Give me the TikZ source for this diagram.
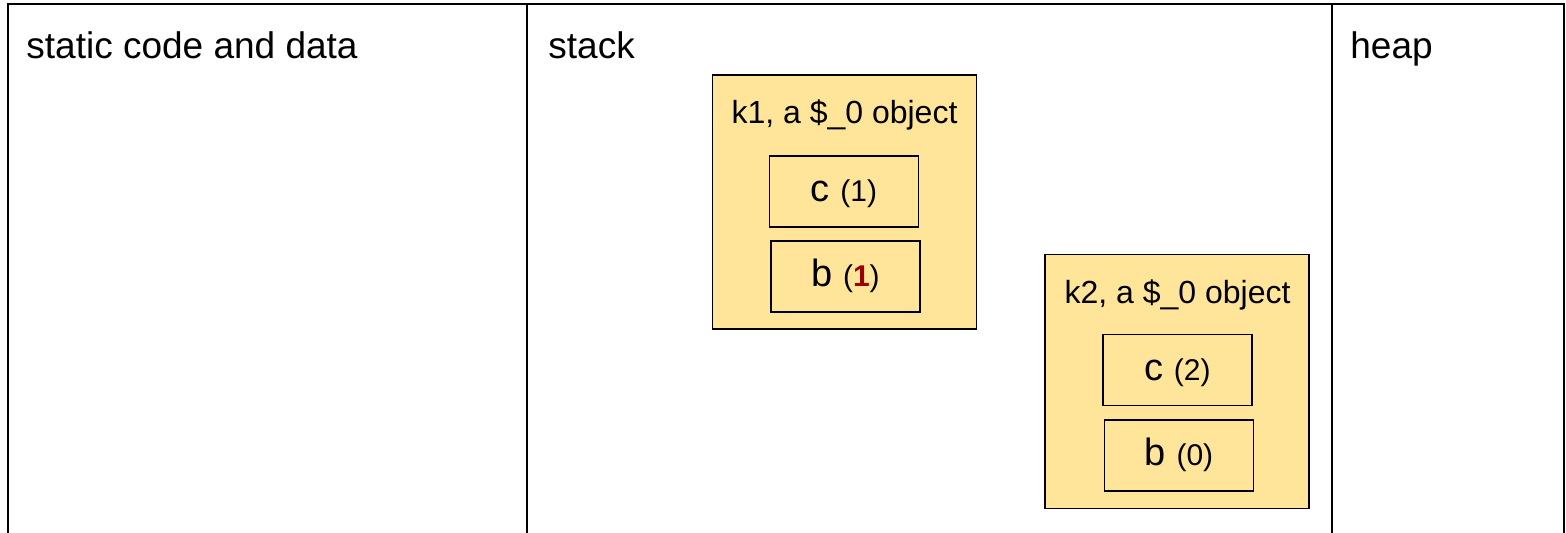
\documentclass[tikz,border=0pt]{standalone}
\usepackage{fontspec}
\setmainfont{Liberation Sans}
\definecolor{objfill}{HTML}{FFE599}
\definecolor{hilite}{HTML}{990000}
\newcommand{\lbl}{\fontsize{18.5}{22}\selectfont}
\newcommand{\fld}{\fontsize{19}{23}\selectfont}
\newcommand{\ttl}{\fontsize{16}{19}\selectfont}
\newcommand{\num}{\fontsize{15}{18}\selectfont}
\begin{document}
\begin{tikzpicture}[x=0.5pt,y=-0.5pt,
  region/.style={line width=1pt,draw=black},
  objbox/.style={draw=black,line width=0.8pt,fill=objfill,minimum width=132pt,minimum height=127pt,inner sep=0pt},
  fieldbox/.style={draw=black,line width=0.8pt,fill=objfill,minimum width=74.5pt,minimum height=35.5pt,inner sep=0pt},
  rlabel/.style={anchor=base west,inner sep=0pt,font=\lbl},
  otitle/.style={anchor=base,inner sep=0pt,font=\ttl},
  ftext/.style={anchor=base,inner sep=0pt}]
\useasboundingbox (0,0) rectangle (1566,532);
\fill[white] (0,0) rectangle (1566,532);
% memory regions
\coordinate (tl) at (8,4);
\coordinate (tr) at (1564,4);
\coordinate (bl) at (8,545);
\coordinate (br) at (1564,545);
\coordinate (d1t) at (527,4);
\coordinate (d1b) at (527,545);
\coordinate (d2t) at (1332,4);
\coordinate (d2b) at (1332,545);
\draw[region] (bl) -- (tl) -- (tr) -- (br);
\draw[region] (d1t) -- (d1b);
\draw[region] (d2t) -- (d2b);
\node[rlabel] (static) at (26,58) {static code and data};
\node[rlabel] (stack) at (548,58) {stack};
\node[rlabel] (heap) at (1350,58) {heap};
% object k1
\node[objbox] (k1) at (844.5,202) {};
\node[otitle] (k1t) at (844.5,123) {k1, a \$\_0 object};
\node[fieldbox] (k1c) at (844,191.5) {};
\node[fieldbox] (k1b) at (845.5,276.5) {};
\node[ftext] (k1cl) at (844,201.5) {\fld c \num(1)};
\node[ftext] (k1bl) at (845.5,286.5) {\fld b \num(\textcolor{hilite}{\bfseries 1})};
% object k2
\node[objbox] (k2) at (1177,381.5) {};
\node[otitle] (k2t) at (1177.5,303) {k2, a \$\_0 object};
\node[fieldbox] (k2c) at (1177.5,370) {};
\node[fieldbox] (k2b) at (1179,455.5) {};
\node[ftext] (k2cl) at (1177.5,380) {\fld c \num(2)};
\node[ftext] (k2bl) at (1179,465.5) {\fld b \num(0)};
\end{tikzpicture}
\end{document}
